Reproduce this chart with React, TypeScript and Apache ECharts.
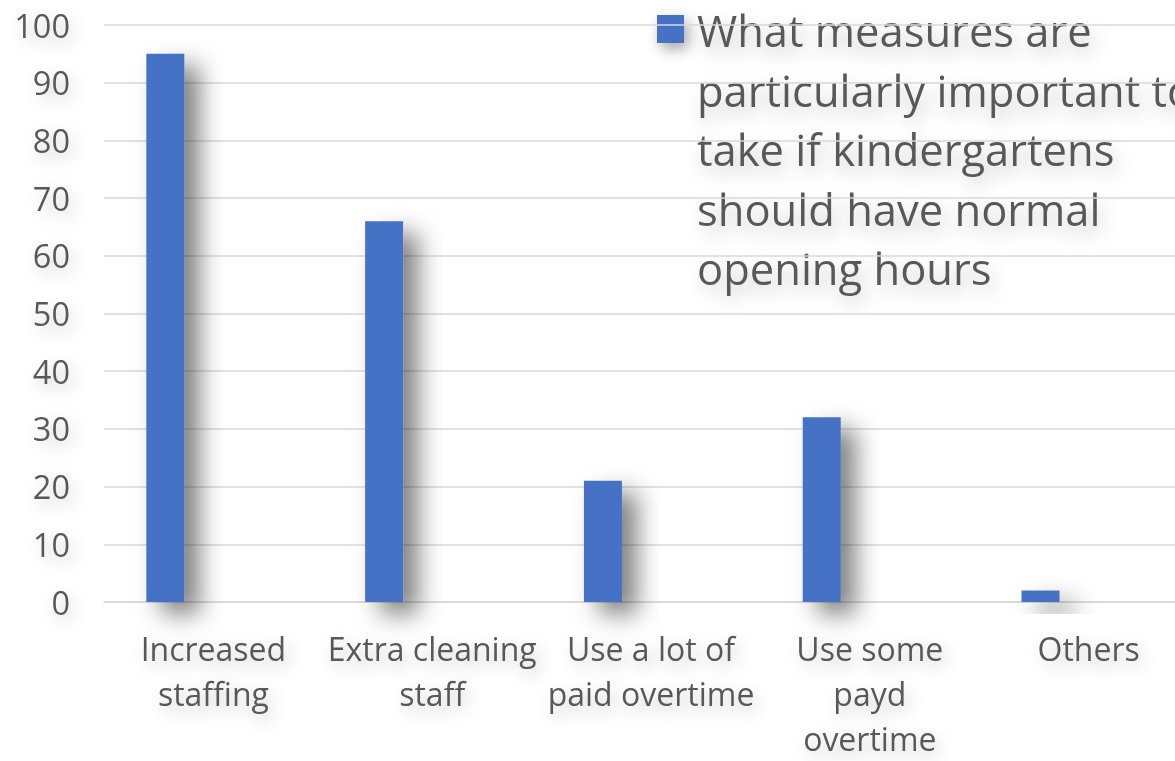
import React, { useEffect, useRef } from "react";
import * as echarts from "echarts";

const categories = [
  "Increased\nstaffing",
  "Extra cleaning\nstaff",
  "Use a lot of\npaid overtime",
  "Use some\npayd\novertime",
  "Others",
];
const values = [95, 66, 21, 32, 2];
const seriesName =
  "What measures are particularly important to take if kindergartens should have normal opening hours";
const legendLines = [
  "What measures are",
  "particularly important to",
  "take if kindergartens",
  "should have normal",
  "opening hours",
];
const yMin = 0;
const yMax = 100;
const yInterval = 10;

const FONT = "'Open Sans', 'Noto Sans', sans-serif";
const TEXT = "#595959";
const GRID = "#d9d9d9";
const BAR = "#4472C4";

const glow = {
  textShadowColor: "rgba(0,0,0,0.22)",
  textShadowBlur: 16,
  textShadowOffsetX: 4,
  textShadowOffsetY: 6,
};

export default function App() {
  const ref = useRef<HTMLDivElement>(null);
  useEffect(() => {
    if (!ref.current) return;
    const chart = echarts.init(ref.current, null, { renderer: "svg" });
    chart.setOption({
      animation: false,
      backgroundColor: "#ffffff",
      grid: { left: 104, right: 2, top: 25, bottom: 155, containLabel: false },
      legend: { show: false },
      graphic: [
        {
          type: "rect",
          left: 657,
          top: 15,
          shape: { width: 27, height: 28 },
          style: {
            fill: BAR,
            shadowColor: "rgba(0,0,0,0.35)",
            shadowBlur: 14,
            shadowOffsetX: 4,
            shadowOffsetY: 6,
          },
        },
        {
          type: "text",
          x: 697,
          y: 1,
          style: {
            text: legendLines.join("\n"),
            fontFamily: FONT,
            fontSize: 43.5,
            lineHeight: 59.5,
            fill: TEXT,
            verticalAlign: "top",
            align: "left",
            textShadowColor: "rgba(0,0,0,0.22)",
            textShadowBlur: 18,
            textShadowOffsetX: 4,
            textShadowOffsetY: 8,
          },
        },
      ],
      xAxis: {
        type: "category",
        data: categories,
        axisTick: { show: false },
        axisLine: { lineStyle: { color: GRID, width: 1.5 } },
        axisLabel: {
          interval: 0,
          fontFamily: FONT,
          fontSize: 32,
          lineHeight: 45,
          color: TEXT,
          margin: 24,
          ...glow,
        },
      },
      yAxis: {
        type: "value",
        min: yMin,
        max: yMax,
        interval: yInterval,
        axisLine: { show: false },
        axisTick: { show: false },
        splitLine: { lineStyle: { color: GRID, width: 1.5 } },
        axisLabel: {
          fontFamily: FONT,
          fontSize: 32.5,
          color: TEXT,
          margin: 34,
          ...glow,
        },
      },
      series: [
        {
          name: seriesName,
          type: "bar",
          data: values,
          barWidth: 38,
          barGap: "153%",
          itemStyle: {
            color: BAR,
            shadowColor: "rgba(0,0,0,0.5)",
            shadowBlur: 24,
            shadowOffsetX: 15,
            shadowOffsetY: 12,
          },
        },
        {
          name: "",
          type: "bar",
          data: values.map(() => null),
          barWidth: 38,
        },
      ],
    });
    return () => chart.dispose();
  }, []);
  return (
    <div
      ref={ref}
      style={{ position: "fixed", left: 0, top: 0, width: 1200, height: 761 }}
    />
  );
}
